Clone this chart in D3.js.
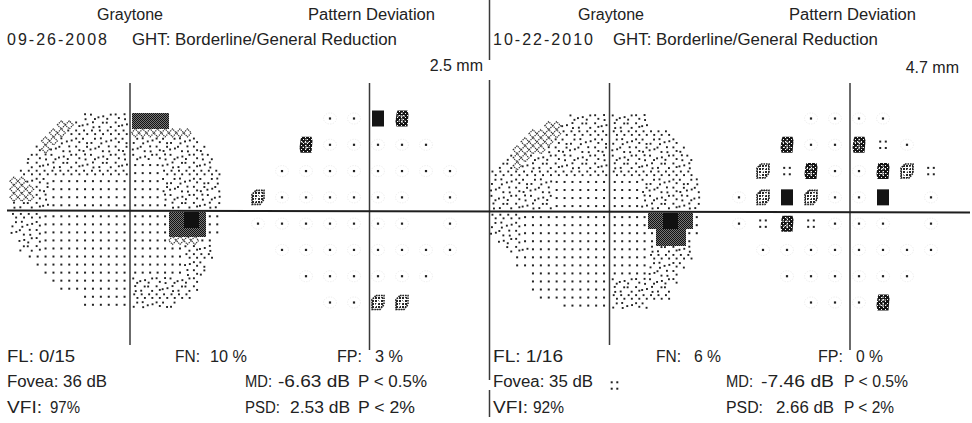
<!DOCTYPE html>
<html><head><meta charset="utf-8">
<script src="https://d3js.org/d3.v7.min.js"></script>
<style>
body{margin:0;background:#fff}
svg{display:block}
text{font-family:"Liberation Sans",Arial,sans-serif;font-size:16px;fill:#222}
</style>
</head><body>
<svg id="c" width="972" height="423"></svg>
<script>
// ---------------- DATA ----------------
const examDates = ["09-26-2008", "10-22-2010"];
const ghtResult = ["GHT: Borderline/General Reduction", "GHT: Borderline/General Reduction"];
const pupilSize = ["2.5 mm", "4.7 mm"];
const fixationLosses = ["0/15", "1/16"];
const falseNeg = ["10 %", "6 %"];
const falsePos = ["3 %", "0 %"];
const foveaDb = ["36 dB", "35 dB"];
const foveaFlag = [0, 1];            // 1 = p<5% symbol next to the foveal value
const vfiValues = ["97%", "92%"];
const mdValues = ["-6.63 dB", "-7.46 dB"];
const mdProb = ["P < 0.5%", "P < 0.5%"];
const psdValues = ["2.53 dB", "2.66 dB"];
const psdProb = ["P < 2%", "P < 2%"];

// 24-2 test grid, degrees (right eye)
const pdRowsY = [21, 15, 9, 3, -3, -9, -15, -21];
const pdRowsX = [
  [-9,-3,3,9],
  [-15,-9,-3,3,9,15],
  [-21,-15,-9,-3,3,9,15,21],
  [-27,-21,-15,-9,-3,3,9,15,21],
  [-27,-21,-15,-9,-3,3,9,15,21],
  [-21,-15,-9,-3,3,9,15,21],
  [-15,-9,-3,3,9,15],
  [-9,-3,3,9]
];
// pattern deviation probability: 0 normal, 1 p<5%, 2 p<2%, 3 p<1%, 4 p<0.5%, -1 blind spot
const pd2008 = [
  [0,0,4,3],
  [3,0,0,0,0,0],
  [0,0,0,0,0,0,0,0],
  [2,0,0,0,0,0,0,-1,0],
  [0,0,0,0,0,0,0,-1,0],
  [0,0,0,0,0,0,0,0],
  [0,0,0,0,0,0],
  [0,0,2,2]
];
const pd2010 = [
  [0,0,0,0],
  [3,0,0,3,1,0],
  [2,1,3,0,0,3,2,1],
  [0,2,4,2,0,0,4,-1,0],
  [0,1,3,1,0,0,0,-1,0],
  [0,0,0,0,0,0,0,0],
  [0,0,0,0,0,0],
  [0,0,0,3]
];

// graytone levels, 2-degree cells: 27 columns (-30..24 deg), 24 rows (24..-24 deg)
// '.' outside, 1 lightest, 2 light, 3 medium hatch, 4 dark checker, 5 black
const gray2008 = [
  "......... 222222 44444 .......",
  "...... 33 2222222 44444 .......",
  "..... 33 22222222 33333333 ....",
  ".... 33 222222222 222222222 ...",
  "... 2 3 2222222222 2222222222 ..",
  ".. 2222222222222 22222222222 .",
  ".. 2222222222222 1111 2222222 .",
  ". 22222222222222 1111 22222222",
  "33 222 1111111111 1111 22222222",
  "333 22 1111111111 1111 22222222",
  "333 22 1111111111 1111 22222222",
  "22222 1111111111 11111 2222222",
  "2222 11111111111 11111 44 55 4 11",
  "2222 11111111111 11111 44 55 4 11",
  "2222 11111111111 11111 44444 11",
  ". 222 11111111111 11111 3333 11 .",
  ". 222 11111111111 1111111 2222 .",
  ".. 1111111111111 1111111 2222 .",
  "... 111111111111 1111111 222 ..",
  ".... 11111111111 1111111 222 ..",
  "..... 1111111111 222222222 ...",
  "...... 111111111 222222222 ...",
  "......... 111111 22222222 ....",
  "......... 111111 222222 ......"
];
const gray2010 = [
  ".......... 22222 22222 .......",
  "....... 33 222222 22222 .......",
  "..... 3333 222222 22222222 ....",
  ".... 3333 2222222 222222222 ...",
  "... 3333 22222222 2222222222 ..",
  ".. 2 33 2222222222 22222222222 .",
  ". 22 3 22222222222 22222222222 .",
  "222222222222222 22222222222 .",
  "22222222 1111111 1111 22222222",
  "22222222 1111111 1111 22222222",
  "22222222 1111111 1111 22222222",
  "22222222 1111111 1111 22222222",
  "2222 11111111111 11111 44 55 44 1",
  "2222 11111111111 11111 44 55 44 1",
  "2222 11111111111 111111 4444 11",
  ". 222 11111111111 111111 4444 1 .",
  ".. 222 1111111111 11111 222222 .",
  "... 111111111111 11111 222222 .",
  "... 111111111111 11111 22222 ..",
  "..... 1111111111 11111 2222 ...",
  "..... 1111111111 222222222 ...",
  "..... 1111111111 22222222 ....",
  "...... 111111111 22222222 ....",
  "......... 111111 22222 ......."
];

// ---------------- DRAW ----------------
const svg = d3.select("#c");
const defs = svg.append("defs");
function pat(id, w, h, build) {
  const p = defs.append("pattern").attr("id", id).attr("patternUnits", "userSpaceOnUse")
    .attr("width", w).attr("height", h);
  build(p);
}
pat("chk2", 2, 2, p => {
  p.append("rect").attr("width", 1).attr("height", 1).attr("fill", "#111");
  p.append("rect").attr("x", 1).attr("y", 1).attr("width", 1).attr("height", 1).attr("fill", "#111");
});
pat("holes", 4, 4, p => {
  p.append("rect").attr("x", 1).attr("y", 1).attr("width", 1).attr("height", 1).attr("fill", "#fff");
  p.append("rect").attr("x", 3).attr("y", 3).attr("width", 1).attr("height", 1).attr("fill", "#fff");
});
pat("sp", 3, 3, p => {
  p.append("rect").attr("width", 2).attr("height", 2).attr("fill", "#262626");
});

const panels = [
  {gray: gray2008, pd: pd2008, gx: 130, gy: 210.8, axPD: 369.5, pcx: 366, off: 0, col: 7},
  {gray: gray2010, pd: pd2010, gx: 609.5, gy: 211.6, axPD: 850, pcx: 847, off: 481, col: 493}
];

const DOT = "#222";
function dot(g, x, y, s) {
  s = s || 2;
  g.append("rect").attr("x", x - s / 2).attr("y", y - s / 2).attr("width", s).attr("height", s).attr("fill", DOT);
}
const L2OFF = [
  [[-2, -2.2], [2, 2.2]],
  [[2, -2.2], [-1.5, 2]],
  [[0, -2.6], [0.5, 2.4]],
  [[-2.4, 0.5], [2.4, -0.5]],
  [[-1, -2.4], [2.2, 1.2]]
];

function drawGray(grid, cx, cy) {
  const g = svg.append("g");
  const xl = d3.scaleLinear().domain([-30, 0]).range([cx - 120, cx - 1.5]);
  const xr = d3.scaleLinear().domain([0, 24]).range([cx + 1.5, cx + 91]);
  const yu = d3.scaleLinear().domain([24, 0]).range([cy - 98, cy - 1.5]);
  const yd = d3.scaleLinear().domain([0, -24]).range([cy + 1.5, cy + 98]);
  grid.forEach((rowRaw, j) => {
    const row = rowRaw.replace(/ /g, "");
    for (let k = 0; k < 27; k++) {
      const ch = row[k];
      if (!ch || ch === ".") continue;
      const lv = +ch;
      const d0 = -30 + 2 * k, d1 = d0 + 2;
      const xs = d0 < 0 ? xl : xr;
      const e0 = 24 - 2 * j, e1 = e0 - 2;
      const ys = e0 > 0 ? yu : yd;
      const x0 = xs(d0), x1 = xs(d1), y0 = ys(e0), y1 = ys(e1);
      const mx = (x0 + x1) / 2, my = (y0 + y1) / 2, w = x1 - x0, h = y1 - y0;
      if (lv === 1) dot(g, mx, my, 2);
      else if (lv === 2) {
        const o = L2OFF[(j * 7 + k * 3 + ((j * k) % 5)) % 5];
        dot(g, mx + o[0][0], my + o[0][1], 1.9);
        dot(g, mx + o[1][0], my + o[1][1], 1.9);
      } else if (lv === 3) {
        g.append("path")
          .attr("d", `M${x0},${my}L${mx},${y0}L${x1},${my}L${mx},${y1}Z`)
          .attr("fill", "none").attr("stroke", "#333").attr("stroke-width", 1.2)
          .attr("stroke-dasharray", "1.3 0.9");
      } else if (lv === 4) {
        g.append("rect").attr("x", x0).attr("y", y0).attr("width", w + 0.3).attr("height", h + 0.3)
          .attr("fill", "#777").attr("shape-rendering", "crispEdges");
        g.append("rect").attr("x", x0).attr("y", y0).attr("width", w + 0.3).attr("height", h + 0.3)
          .attr("fill", "url(#chk2)").attr("shape-rendering", "crispEdges");
      } else if (lv === 5) {
        g.append("rect").attr("x", x0).attr("y", y0).attr("width", w + 0.5).attr("height", h + 0.5)
          .attr("fill", "#111").attr("shape-rendering", "crispEdges");
      }
    }
  });
}

function drawSymbol(g, lv, x, y) {
  if (lv < 0) return;
  if (lv === 0) {
    g.append("ellipse").attr("cx", x).attr("cy", y).attr("rx", 6.5).attr("ry", 5.5)
      .attr("fill", "none").attr("stroke", "#ececec").attr("stroke-width", 1).attr("stroke-dasharray", "1.2 1.4");
    dot(g, x, y, 2.2);
  } else if (lv === 1) {
    [[-2.8, -3.2], [2.8, -3.2], [-2.8, 3.2], [2.8, 3.2]].forEach(o => dot(g, x + o[0], y + o[1], 2));
  } else if (lv === 2) {
    const w = 12, h = 14, x0 = x - w / 2, y0 = y - h / 2;
    g.append("path")
      .attr("d", `M${x0 + 4},${y0}L${x0 + w},${y0}L${x0 + w},${y0 + h - 5}L${x0 + w - 4},${y0 + h}L${x0},${y0 + h}L${x0},${y0 + 4}Z`)
      .attr("fill", "url(#sp)").attr("stroke", "#222").attr("stroke-width", 1.6).attr("stroke-dasharray", "1.6 0.9");
    g.append("line").attr("x1", x0 + 2.5).attr("y1", y0 + h - 2.5).attr("x2", x0 + w - 2.5).attr("y2", y0 + 2.5)
      .attr("stroke", "#fff").attr("stroke-width", 1.3);
  } else if (lv === 3) {
    const w = 13, h = 16, x0 = x - w / 2, y0 = y - h / 2;
    g.append("path")
      .attr("d", `M${x0 + 2},${y0}L${x0 + w - 1},${y0}L${x0 + w},${y0 + 4}L${x0 + w - 1},${y0 + h}L${x0 + 1},${y0 + h}L${x0},${y0 + h - 5}L${x0 + 1},${y0 + 3}Z`)
      .attr("fill", "#151515");
    g.append("rect").attr("x", x0).attr("y", y0).attr("width", w).attr("height", h).attr("fill", "url(#holes)");
    g.append("path").attr("d", `M${x0 + 2},${y0 + 5.5}H${x0 + w - 2}M${x0 + 3},${y0 + 10.5}H${x0 + w - 3}M${x0 + 6.5},${y0 + 2}V${y0 + 14}`)
      .attr("stroke", "#fff").attr("stroke-width", 1).attr("stroke-dasharray", "1.5 1.5");
  } else if (lv === 4) {
    g.append("rect").attr("x", x - 6).attr("y", y - 8).attr("width", 12).attr("height", 16).attr("fill", "#141414");
  }
}

function drawPD(levels, cx, cy) {
  const g = svg.append("g");
  const xs = d3.scaleLinear().domain([-27, 21]).range([cx - 108, cx + 84]);
  const ys = d3.scaleLinear().domain([21, -21]).range([cy - 92, cy + 92]);
  pdRowsY.forEach((yd, r) => pdRowsX[r].forEach((xd, i) => drawSymbol(g, levels[r][i], xs(xd), ys(yd))));
}

const lines = svg.append("g").attr("stroke", "#3a3a3a").attr("stroke-width", 1.5);
[[0, 60], [80, 380], [390, 417]].forEach(s =>
  lines.append("line").attr("x1", 489.5).attr("x2", 489.5).attr("y1", s[0]).attr("y2", s[1]));

panels.forEach((P, p) => {
  drawGray(P.gray, P.gx, P.gy);
  drawPD(P.pd, P.pcx, 210.5);
  lines.append("line").attr("x1", P.gx).attr("x2", P.gx).attr("y1", 83).attr("y2", 345);
  lines.append("line").attr("x1", P.axPD).attr("x2", P.axPD).attr("y1", 83).attr("y2", 350);
});
svg.append("line").attr("x1", 7).attr("y1", 210.6).attr("x2", 970).attr("y2", 212.4)
  .attr("stroke", "#1e1e1e").attr("stroke-width", 2);

function txt(s, x, y, len, anchor, adj) {
  const t = svg.append("text").attr("x", x).attr("y", y).text(s);
  if (len) t.attr("textLength", len).attr("lengthAdjust", adj || "spacingAndGlyphs");
  if (anchor) t.attr("text-anchor", anchor);
  return t;
}
panels.forEach((P, p) => {
  const o = P.off, c = P.col;
  txt("Graytone", 97 + o, 20, 66);
  txt("Pattern Deviation", 308 + o, 20, 127);
  txt(examDates[p], c, 45, 100, null, "spacing");
  txt(ghtResult[p], 132 + o, 45, 265);
  txt(pupilSize[p], [483, 959][p], [71, 73][p], null, "end");
  txt("FL: " + fixationLosses[p], c, 362, [68, 70][p]);
  txt("FN:", 175 + o, 362, 25);
  txt(falseNeg[p], [210, 694][p], 362, [37, 27][p]);
  txt("FP:", 337 + o, 362, 25);
  txt(falsePos[p], [375, 856][p], 362, [28, 27][p]);
  txt("Fovea: " + foveaDb[p], c, 387, 100);
  txt("MD:", 245 + o, 387, 27);
  txt(mdValues[p], [278, 761][p], 387, [72, 73][p]);
  txt(mdProb[p], [358, 844][p], 387, [69, 64][p]);
  txt("VFI:", c, 413, 35);
  txt(vfiValues[p], [50, 533][p], 413, [30, 31][p]);
  txt("PSD:", 245 + o, 413, [35, 37][p]);
  txt(psdValues[p], [290, 776][p], 413, [60, 58][p]);
  txt(psdProb[p], [358, 844][p], 413, [57, 50][p]);
  if (foveaFlag[p]) drawSymbol(svg, 1, [120, 614.5][p], 385.5);
});
</script>
</body></html>
